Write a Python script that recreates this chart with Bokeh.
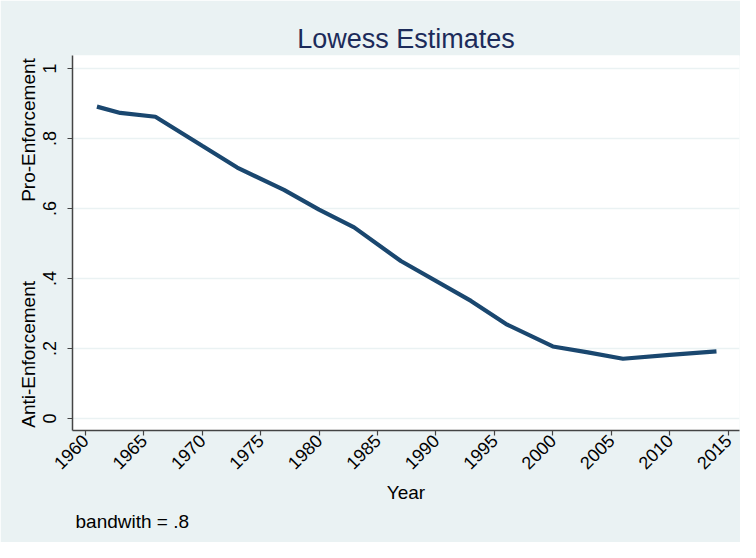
import math
from bokeh.plotting import figure
from bokeh.models import FixedTicker, CustomJSTickFormatter, Title, Range1d
from bokeh.embed import file_html
from bokeh.resources import INLINE

# ---- data ----
years = [1961, 1963, 1966, 1970, 1973, 1977, 1980, 1983, 1987, 1993, 1996, 2000, 2003, 2006, 2010, 2014]
lowess = [0.891, 0.873, 0.862, 0.779, 0.717, 0.653, 0.597, 0.546, 0.450, 0.336, 0.270, 0.206, 0.189, 0.171, 0.182, 0.192]
x_ticks = [1960, 1965, 1970, 1975, 1980, 1985, 1990, 1995, 2000, 2005, 2010, 2015]
y_ticks = [0, 0.2, 0.4, 0.6, 0.8, 1]
y_tick_labels = ["0", ".2", ".4", ".6", ".8", "1"]
title_text = "Lowess Estimates"
x_label = "Year"
y_label_low = "Anti-Enforcement"
y_label_high = "Pro-Enforcement"
note_text = "bandwith = .8"

BG = "#EAF2F3"
NAVY = "#1A476F"
FONT = "Liberation Sans"

p = figure(width=740, height=542, output_backend="svg", toolbar_location=None,
           x_range=Range1d(1958.91, 2015.97), y_range=Range1d(-0.034, 1.037),
           min_border_left=72, min_border_right=1, min_border_top=55, min_border_bottom=112)

p.background_fill_color = "white"
p.border_fill_color = BG
p.outline_line_color = None

p.title.text = title_text
p.title.align = "center"
p.title.text_font = FONT
p.title.text_font_size = "27px"
p.title.text_font_style = "normal"
p.title.text_color = "#1C2B5A"
p.title.standoff = 4

p.line(years, lowess, line_color=NAVY, line_width=4.2)

# x axis
xa = p.xaxis[0]
xa.ticker = FixedTicker(ticks=x_ticks)
xa.major_label_orientation = math.pi / 4
xa.axis_label = x_label
# y axis
ya = p.yaxis[0]
ya.ticker = FixedTicker(ticks=y_ticks)
ya.formatter = CustomJSTickFormatter(args=dict(tvals=y_ticks, tlabels=y_tick_labels), code="""
    for (let i = 0; i < tvals.length; i++) {
        if (Math.abs(tvals[i] - tick) < 1e-9) return tlabels[i];
    }
    return String(tick);
""")
ya.major_label_orientation = "vertical"
ya.axis_label = y_label_low + "\u00a0" * 15 + y_label_high

for ax in (xa, ya):
    ax.axis_line_color = "#444444"
    ax.axis_line_width = 1.5
    ax.major_tick_line_color = "#444444"
    ax.major_tick_line_width = 1.2
    ax.major_tick_in = 0
    ax.major_tick_out = 5
    ax.minor_tick_line_color = None
    ax.major_label_text_font = FONT
    ax.major_label_text_font_size = "18px"
    ax.major_label_text_color = "black"
    ax.axis_label_text_font = FONT
    ax.axis_label_text_font_size = "19px"
    ax.axis_label_text_font_style = "normal"
    ax.axis_label_text_color = "black"

xa.major_label_standoff = 2
xa.axis_label_standoff = 4
ya.major_label_standoff = 11
ya.axis_label_standoff = 2

p.xgrid.grid_line_color = None
p.ygrid.grid_line_color = BG
p.ygrid.grid_line_width = 1.5

note = Title(text=note_text, align="left", text_font=FONT, text_font_size="19px",
             text_font_style="normal", text_color="black", offset=3, standoff=5)
p.add_layout(note, "below")

open("out.html", "w").write(file_html(p, INLINE))
